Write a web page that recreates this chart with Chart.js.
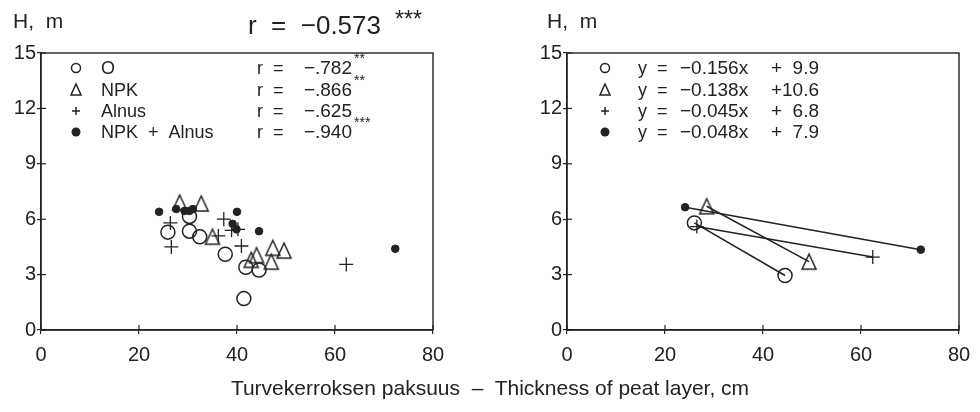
<!DOCTYPE html>
<html>
<head>
<meta charset="utf-8">
<script src="https://cdn.jsdelivr.net/npm/chart.js@4/dist/chart.umd.min.js"></script>
<style>
  body { margin: 0; background: #fff; }
  #wrap { position: relative; width: 980px; height: 412px; overflow: hidden; font-family: "Liberation Sans", Arial, sans-serif; color: #222; }
  canvas { position: absolute; top: 0; }
  #c1 { left: 0; }
  #c2 { left: 490px; }
  .txt { position: absolute; white-space: pre; line-height: 1; }
</style>
</head>
<body>
<div id="wrap">
  <canvas id="c1" width="490" height="412"></canvas>
  <canvas id="c2" width="490" height="412"></canvas>
  <div class="txt" style="left:13px; top:10px; font-size:21px;">H,  m</div>
  <div class="txt" style="left:248px; top:12px; font-size:26px;">r  =  −0.573</div>
  <div class="txt" style="left:395px; top:8px; font-size:23px;">***</div>
  <div class="txt" style="left:547px; top:10px; font-size:21px;">H,  m</div>
  <div class="txt" style="left:0; width:980px; text-align:center; top:377px; font-size:21px;">Turvekerroksen paksuus  –  Thickness of peat layer, cm</div>
</div>
<script>
// thickness of peat layer (cm) and tree height (m)
const oThick = [25.9, 30.3, 30.3, 32.4, 37.6, 41.8, 44.5, 41.4];
const oHeight = [5.3, 6.15, 5.35, 5.05, 4.1, 3.4, 3.25, 1.7];
const npkThick = [28.3, 32.7, 35.0, 42.9, 44.0, 47.3, 49.6, 47.0];
const npkHeight = [6.9, 6.85, 5.05, 3.8, 4.05, 4.45, 4.3, 3.7];
const alnusThick = [26.4, 26.6, 37.3, 36.2, 38.9, 40.2, 40.9, 62.3];
const alnusHeight = [5.8, 4.5, 6.0, 5.1, 5.4, 5.45, 4.55, 3.55];
const bothThick = [24.1, 27.6, 29.3, 30.3, 31.0, 40.0, 39.1, 39.9, 44.5, 72.3];
const bothHeight = [6.4, 6.55, 6.45, 6.45, 6.55, 6.4, 5.75, 5.45, 5.35, 4.4];

// regression line end points (right panel)
const oLine = [[26.0, 5.8], [44.5, 2.95]];
const npkLine = [[28.5, 6.7], [49.4, 3.7]];
const alnusLine = [[26.5, 5.6], [62.4, 3.95]];
const bothLine = [[24.1, 6.65], [72.2, 4.35]];

const groups = ["O", "NPK", "Alnus", "NPK  +  Alnus"];
const rValues = ["−.782", "−.866", "−.625", "−.940"];
const rStars = ["**", "**", "", "***"];
const slopes = ["−0.156x", "−0.138x", "−0.045x", "−0.048x"];
const intercepts = ["+  9.9", "+10.6", "+  6.8", "+  7.9"];

const ink = "#222";
const font = "Liberation Sans, Arial, sans-serif";

function pts(xs, ys) {
    return xs.map((x, i) => ({ x: x, y: ys[i] }));
}

// open triangle used as point style
function triangleImage(w, h) {
    const c = document.createElement("canvas");
    c.width = w + 4;
    c.height = h + 4;
    const g = c.getContext("2d");
    g.strokeStyle = ink;
    g.lineWidth = 1.5;
    g.beginPath();
    g.moveTo(c.width / 2, 2);
    g.lineTo(c.width - 2, h + 2);
    g.lineTo(2, h + 2);
    g.closePath();
    g.stroke();
    return c;
}

function legendMarker(ctx, kind, x, y) {
    ctx.save();
    ctx.strokeStyle = ink;
    ctx.fillStyle = ink;
    ctx.lineWidth = 1.5;
    ctx.beginPath();
    if (kind === 0) {
        ctx.arc(x, y, 4.5, 0, Math.PI * 2);
        ctx.stroke();
    } else if (kind === 1) {
        ctx.moveTo(x, y - 6);
        ctx.lineTo(x + 5, y + 5);
        ctx.lineTo(x - 5, y + 5);
        ctx.closePath();
        ctx.stroke();
    } else if (kind === 2) {
        ctx.moveTo(x - 4, y);
        ctx.lineTo(x + 4, y);
        ctx.moveTo(x, y - 4);
        ctx.lineTo(x, y + 4);
        ctx.stroke();
    } else {
        ctx.arc(x, y, 4.5, 0, Math.PI * 2);
        ctx.fill();
    }
    ctx.restore();
}

const legendRows = [68, 90, 111, 132];

function framePlugin(legend) {
    return {
        id: "frame",
        afterDraw(chart) {
            const ctx = chart.ctx;
            const a = chart.chartArea;
            ctx.save();
            ctx.strokeStyle = ink;
            ctx.lineWidth = 1.4;
            ctx.strokeRect(a.left, a.top, a.right - a.left, a.bottom - a.top);
            // inner half of the tick marks
            ctx.lineWidth = 1.2;
            chart.scales.x.ticks.forEach(t => {
                const px = chart.scales.x.getPixelForValue(t.value);
                ctx.beginPath();
                ctx.moveTo(px, a.bottom);
                ctx.lineTo(px, a.bottom - 5);
                ctx.stroke();
            });
            chart.scales.y.ticks.forEach(t => {
                const py = chart.scales.y.getPixelForValue(t.value);
                ctx.beginPath();
                ctx.moveTo(a.left, py);
                ctx.lineTo(a.left + 5, py);
                ctx.stroke();
            });
            legend(ctx);
            ctx.restore();
        }
    };
}

function leftLegend(ctx) {
    ctx.fillStyle = ink;
    ctx.textBaseline = "middle";
    groups.forEach((g, i) => {
        const y = legendRows[i];
        legendMarker(ctx, i, 76, y);
        ctx.fillStyle = ink;
        ctx.textAlign = "left";
        ctx.font = "18px " + font;
        ctx.fillText(g, 101, y + 1);
        ctx.fillText("r", 257, y + 1);
        ctx.fillText("=", 273, y + 1);
        ctx.font = "19px " + font;
        ctx.textAlign = "right";
        ctx.fillText(rValues[i], 352, y + 1);
        ctx.textAlign = "left";
        ctx.font = "14px " + font;
        ctx.fillText(rStars[i], 354, y - 9);
    });
}

function rightLegend(ctx) {
    ctx.fillStyle = ink;
    ctx.textBaseline = "middle";
    slopes.forEach((s, i) => {
        const y = legendRows[i];
        legendMarker(ctx, i, 115, y);
        ctx.fillStyle = ink;
        ctx.font = "18px " + font;
        ctx.textAlign = "left";
        ctx.fillText("y", 148, y + 1);
        ctx.fillText("=", 167, y + 1);
        ctx.font = "19px " + font;
        ctx.fillText(s, 190, y + 1);
        ctx.textAlign = "right";
        ctx.fillText(intercepts[i], 329, y + 1);
    });
}

function scales() {
    const grid = { drawOnChartArea: false, drawTicks: true, tickLength: 4, color: ink, lineWidth: 1.2 };
    const tickFont = { family: font, size: 20 };
    return {
        x: {
            type: "linear", min: 0, max: 80,
            grid: grid,
            border: { color: ink, width: 1.4 },
            ticks: { stepSize: 20, color: ink, font: tickFont, padding: 9, maxRotation: 0 },
            afterFit(s) { s.height = 42; }
        },
        y: {
            type: "linear", min: 0, max: 15,
            grid: grid,
            border: { color: ink, width: 1.4 },
            ticks: { stepSize: 3, color: ink, font: tickFont, padding: 1 },
            afterFit(s) { s.width = 41; }
        }
    };
}

const tri = triangleImage(14, 15);

const markerStyles = [
    { pointStyle: "circle", pointRadius: 7, borderColor: ink, backgroundColor: "rgba(255,255,255,0)", pointBorderWidth: 1.5 },
    { pointStyle: tri, pointRadius: 8, borderColor: ink, backgroundColor: "rgba(255,255,255,0)", pointBorderWidth: 1.5 },
    { pointStyle: "cross", pointRadius: 7, borderColor: ink, backgroundColor: ink, pointBorderWidth: 1.3 },
    { pointStyle: "circle", pointRadius: 3.8, borderColor: ink, backgroundColor: ink, pointBorderWidth: 1 }
];

const scatterData = [pts(oThick, oHeight), pts(npkThick, npkHeight), pts(alnusThick, alnusHeight), pts(bothThick, bothHeight)];
const lineData = [oLine, npkLine, alnusLine, bothLine].map(l => l.map(p => ({ x: p[0], y: p[1] })));

const baseOptions = {
    responsive: false,
    animation: false,
    plugins: { legend: { display: false }, tooltip: { enabled: false } }
};

new Chart(document.getElementById("c1"), {
    type: "scatter",
    data: {
        datasets: scatterData.map((d, i) => Object.assign({ label: groups[i], data: d }, markerStyles[i]))
    },
    options: Object.assign({}, baseOptions, {
        layout: { padding: { left: 0, top: 53, right: 57, bottom: 40 } },
        scales: scales()
    }),
    plugins: [framePlugin(leftLegend)]
});

new Chart(document.getElementById("c2"), {
    type: "scatter",
    data: {
        datasets: lineData.map((d, i) => Object.assign({
            label: groups[i], data: d, showLine: true, borderWidth: 1.5
        }, markerStyles[i], { borderColor: ink }))
    },
    options: Object.assign({}, baseOptions, {
        layout: { padding: { left: 36, top: 53, right: 21, bottom: 40 } },
        scales: scales()
    }),
    plugins: [framePlugin(rightLegend)]
});
</script>
</body>
</html>
